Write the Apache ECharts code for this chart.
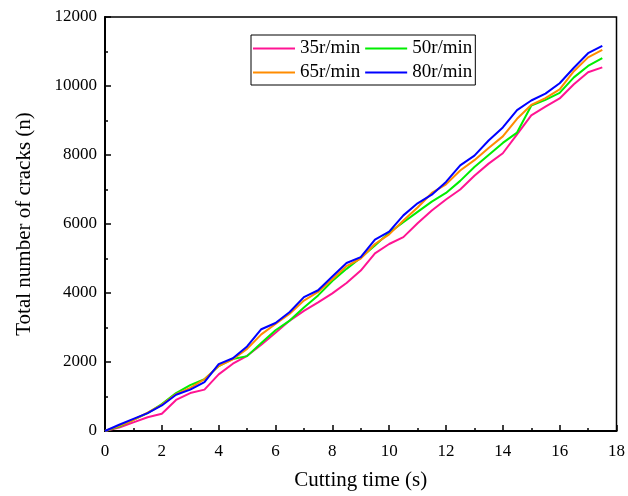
<!DOCTYPE html>
<html>
<head>
<meta charset="utf-8">
<script src="https://cdn.jsdelivr.net/npm/echarts@6/dist/echarts.min.js"></script>
<style>
  html, body { margin: 0; padding: 0; background: #fff; }
  #chart { width: 628px; height: 496px; }
</style>
</head>
<body>
<div id="chart"></div>
<script>
// ==========================================
// 1. Data
// ==========================================
const times = [0, 0.5, 1, 1.5, 2, 2.5, 3, 3.5, 4, 4.5, 5, 5.5, 6, 6.5, 7, 7.5, 8, 8.5,
               9, 9.5, 10, 10.5, 11, 11.5, 12, 12.5, 13, 13.5, 14, 14.5, 15, 15.5, 16, 16.5, 17, 17.5];

const speed35 = [0, 100, 250, 400, 500, 900, 1100, 1200, 1640, 1950, 2180, 2500, 2850, 3200, 3480, 3730, 3990, 4290,
                 4650, 5150, 5420, 5620, 6020, 6390, 6710, 7000, 7400, 7750, 8050, 8600, 9150, 9400, 9640, 10050, 10400, 10540];
const speed50 = [0, 130, 320, 520, 780, 1100, 1330, 1500, 1880, 2090, 2170, 2550, 2920, 3200, 3580, 3930, 4350, 4700,
                 5020, 5380, 5750, 6050, 6350, 6650, 6900, 7250, 7650, 8000, 8350, 8650, 9430, 9600, 9800, 10250, 10580, 10810];
const speed65 = [0, 150, 320, 530, 760, 1070, 1250, 1500, 1880, 2080, 2380, 2800, 3100, 3400, 3780, 4030, 4400, 4780,
                 5000, 5420, 5700, 6100, 6480, 6900, 7150, 7550, 7850, 8200, 8540, 9050, 9450, 9650, 9900, 10430, 10830, 11050];
const speed80 = [0, 180, 350, 520, 740, 1050, 1200, 1420, 1940, 2110, 2450, 2950, 3130, 3450, 3880, 4080, 4480, 4870,
                 5040, 5550, 5780, 6250, 6600, 6850, 7220, 7700, 7980, 8420, 8800, 9300, 9580, 9780, 10080, 10530, 10950, 11160];

const seriesNames = ['35r/min', '50r/min', '65r/min', '80r/min'];
const seriesColors = ['#ff1493', '#00ee00', '#ff8c00', '#0000ff'];

// ==========================================
// 2. Chart
// ==========================================
const fontName = '"Liberation Serif", "Times New Roman", serif';

function pairs(vals) {
    return times.map((t, i) => [t, vals[i]]);
}

var chart = echarts.init(document.getElementById('chart'), null, { renderer: 'canvas' });

const allVals = [speed35, speed50, speed65, speed80];
const series = allVals.map((vals, i) => ({
    name: seriesNames[i], type: 'line', symbol: 'none', data: pairs(vals),
    lineStyle: { color: seriesColors[i], width: 2 }, itemStyle: { color: seriesColors[i] },
    z: 10 + i
}));

chart.setOption({
    animation: false,
    backgroundColor: '#fff',
    textStyle: { fontFamily: fontName },
    grid: { left: 105, right: 6, top: 17, bottom: 64, show: true, borderColor: '#000', borderWidth: 1.5 },
    legend: {
        data: seriesNames, left: 251, top: 35, width: 224,
        orient: 'horizontal', icon: 'rect', itemWidth: 42, itemHeight: 2, itemGap: 5,
        padding: [4, 3, 3, 2], borderColor: '#000', borderWidth: 1,
        textStyle: { fontFamily: fontName, fontSize: 19, color: '#000', lineHeight: 19 }
    },
    xAxis: {
        type: 'value', min: 0, max: 18, interval: 2,
        name: 'Cutting time (s)', nameLocation: 'middle', nameGap: 39,
        nameTextStyle: { fontFamily: fontName, fontSize: 21, color: '#000' },
        axisLine: { lineStyle: { color: '#000', width: 2 } },
        axisTick: { inside: true, length: 6, lineStyle: { color: '#000', width: 1.5 } },
        minorTick: { show: true, splitNumber: 2, length: 3, lineStyle: { color: '#000', width: 1.5 } },
        axisLabel: { fontFamily: fontName, fontSize: 17, color: '#000', margin: 12 },
        splitLine: { show: false }
    },
    yAxis: {
        type: 'value', min: 0, max: 12000, interval: 2000,
        name: 'Total number of cracks (n)', nameLocation: 'middle', nameGap: 70,
        nameTextStyle: { fontFamily: fontName, fontSize: 21, color: '#000' },
        axisLine: { show: true, lineStyle: { color: '#000', width: 2 } },
        axisTick: { show: true, inside: true, length: 6, lineStyle: { color: '#000', width: 1.5 } },
        minorTick: { show: true, splitNumber: 2, length: 3, lineStyle: { color: '#000', width: 1.5 } },
        axisLabel: { fontFamily: fontName, fontSize: 17, color: '#000', margin: 8, formatter: v => String(v) },
        splitLine: { show: false }
    },
    series: series
});
</script>
</body>
</html>
